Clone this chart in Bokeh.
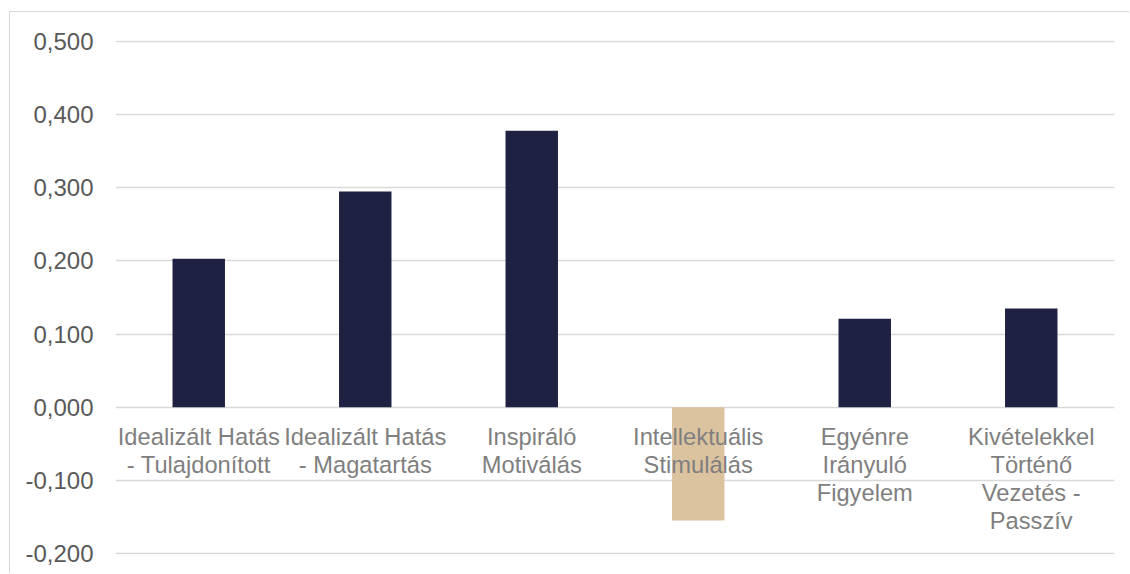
from bokeh.plotting import figure
from bokeh.models import FactorRange, Range1d, FixedTicker, CustomJSTickFormatter, ColumnDataSource
from bokeh.core.properties import value
from bokeh.embed import file_html
from bokeh.resources import INLINE

categories = ["IHT", "IHM", "IM", "IS", "EIF", "KTVP"]
labels = [
    "Idealizált Hatás\n- Tulajdonított",
    "Idealizált Hatás\n- Magatartás",
    "Inspiráló\nMotiválás",
    "Intellektuális\nStimulálás",
    "Egyénre\nIrányuló\nFigyelem",
    "Kivételekkel\nTörténő\nVezetés -\nPasszív",
]
values = [0.203, 0.295, 0.378, -0.155, 0.121, 0.135]
colors = ["#1e2141", "#1e2141", "#1e2141", "#dcc3a0", "#1e2141", "#1e2141"]
y_ticks = [-0.2, -0.1, 0.0, 0.1, 0.2, 0.3, 0.4, 0.5]

eps = 1 / 731.4
p = figure(
    width=1120, height=562,
    x_range=FactorRange(*categories, range_padding=0),
    y_range=Range1d(-0.2 - eps, 0.5 + eps),
    x_axis_type=None,
    output_backend="svg", toolbar_location=None,
)
p.styles = {"margin-left": "9px", "margin-top": "11px",
            "border-left": "1px solid #d9d9d9", "border-top": "1px solid #d9d9d9"}
p.min_border_left = 105
p.min_border_right = 16
p.min_border_top = 28
p.min_border_bottom = 20
p.outline_line_color = None
p.background_fill_color = "white"
p.border_fill_color = "white"

p.yaxis.ticker = FixedTicker(ticks=y_ticks)
p.yaxis.formatter = CustomJSTickFormatter(code="return tick.toFixed(3).replace('.', ',');")
p.yaxis.axis_line_color = None
p.yaxis.major_tick_line_color = None
p.yaxis.minor_tick_line_color = None
p.yaxis.major_tick_in = 0
p.yaxis.major_tick_out = 0
p.yaxis.major_label_standoff = 22
p.yaxis.major_label_text_font = "Liberation Sans"
p.yaxis.major_label_text_font_size = "24px"
p.yaxis.major_label_text_color = "#595959"

p.ygrid.ticker = FixedTicker(ticks=y_ticks)
p.ygrid.grid_line_color = "#d9d9d9"
p.ygrid.grid_line_width = 1.3

src = ColumnDataSource(dict(cat=categories, val=values, color=colors,
                            label=labels, zero=[0] * len(categories)))
p.vbar(x="cat", top="val", bottom=0, width=0.315, fill_color="color",
       line_color=None, source=src)
p.text(x="cat", y="zero", text="label", source=src, text_align="center",
       text_baseline="top", y_offset=17, text_font=value("Liberation Sans"),
       text_font_size="23.7px", text_color="#7f7f7f", text_line_height=1.08)

open("out.html", "w").write(file_html(p, INLINE))
